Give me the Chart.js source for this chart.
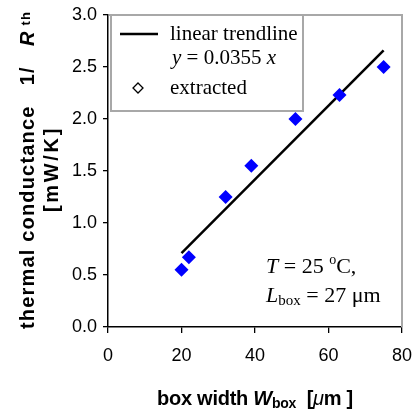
<!DOCTYPE html>
<html>
<head>
<meta charset="utf-8">
<script src="https://cdn.jsdelivr.net/npm/chart.js@4"></script>
<style>
  html, body { margin: 0; padding: 0; background: #fff; }
</style>
</head>
<body>
<canvas id="chart" width="412" height="416"></canvas>
<script>
// data
const boxWidth = [20, 22, 32, 39, 51, 63, 75];
const conductance = [0.55, 0.67, 1.25, 1.55, 2.0, 2.23, 2.5];
const trendX = [20, 75];
const trendY = [0.71, 2.66];
const xTicks = [0, 20, 40, 60, 80];
const yTicks = [0, 0.5, 1.0, 1.5, 2.0, 2.5, 3.0];

const SANS = '"Liberation Sans", Arial, sans-serif';
const SERIF = '"Liberation Serif", "Times New Roman", serif';

// draw text pieces with different fonts, centred on x (or left-aligned)
function drawRuns(ctx, runs, x, y, target, align) {
  let total = 0, chars = 0;
  ctx.letterSpacing = '0px';
  runs.forEach(r => {
    ctx.font = r.font;
    total += ctx.measureText(r.t).width;
    chars += r.t.length;
  });
  let sp = 0;
  if (target) sp = (target - total) / chars;
  let w = 0;
  runs.forEach(r => {
    ctx.font = r.font;
    ctx.letterSpacing = sp + 'px';
    r.w = ctx.measureText(r.t).width;
    w += r.w;
  });
  let cx = align === 'left' ? x : x - w / 2;
  ctx.textAlign = 'left';
  ctx.textBaseline = 'alphabetic';
  runs.forEach(r => {
    ctx.font = r.font;
    ctx.letterSpacing = sp + 'px';
    ctx.fillText(r.t, cx, y + (r.dy || 0));
    cx += r.w;
  });
  ctx.letterSpacing = '0px';
}

const decor = {
  id: 'decor',
  beforeDatasetsDraw(chart) {
    const { ctx, chartArea: a } = chart;
    ctx.save();
    ctx.strokeStyle = '#a8a8a8';
    ctx.lineWidth = 2;
    ctx.beginPath();
    ctx.moveTo(a.left + 1, a.top);
    ctx.lineTo(a.right, a.top);
    ctx.lineTo(a.right, a.bottom);
    ctx.stroke();
    ctx.restore();
  },
  afterDraw(chart) {
    const { ctx } = chart;
    ctx.save();

    // legend box
    ctx.fillStyle = '#fff';
    ctx.fillRect(111, 15, 192, 96);
    ctx.strokeStyle = '#a8a8a8';
    ctx.lineWidth = 2;
    ctx.strokeRect(111, 15, 192, 96);
    ctx.strokeStyle = '#000';
    ctx.lineWidth = 2.5;
    ctx.beginPath();
    ctx.moveTo(120, 34);
    ctx.lineTo(158, 34);
    ctx.stroke();
    ctx.lineWidth = 1.3;
    ctx.beginPath();
    ctx.moveTo(138, 83); ctx.lineTo(143, 88); ctx.lineTo(138, 93); ctx.lineTo(133, 88);
    ctx.closePath();
    ctx.stroke();
    ctx.fillStyle = '#000';
    drawRuns(ctx, [{ t: 'linear trendline', font: '21px ' + SERIF }], 170, 40, 0, 'left');
    drawRuns(ctx, [
      { t: 'y', font: 'italic 21px ' + SERIF },
      { t: ' = 0.0355 ', font: '21px ' + SERIF },
      { t: 'x', font: 'italic 21px ' + SERIF }
    ], 172, 64, 0, 'left');
    drawRuns(ctx, [{ t: 'extracted', font: '21px ' + SERIF }], 170, 94, 0, 'left');

    // conditions
    drawRuns(ctx, [
      { t: 'T', font: 'italic 22px ' + SERIF },
      { t: ' = 25 ', font: '22px ' + SERIF },
      { t: 'o', font: '14px ' + SERIF, dy: -9 },
      { t: 'C,', font: '22px ' + SERIF }
    ], 266, 273, 0, 'left');
    drawRuns(ctx, [
      { t: 'L', font: 'italic 22px ' + SERIF },
      { t: 'box', font: '15px ' + SERIF, dy: 3 },
      { t: ' = 27 \u03bcm', font: '22px ' + SERIF }
    ], 266, 302, 0, 'left');

    // x axis title
    drawRuns(ctx, [
      { t: 'box width ', font: 'bold 20px ' + SANS },
      { t: 'W', font: 'italic bold 20px ' + SANS },
      { t: 'box', font: 'bold 14px ' + SANS, dy: 3 },
      { t: '  [', font: 'bold 20px ' + SANS },
      { t: '\u03bc', font: 'italic 20px ' + SANS },
      { t: 'm ]', font: 'bold 20px ' + SANS }
    ], 255, 405, 196);

    // y axis title, two lines
    ctx.save();
    ctx.translate(34, 170);
    ctx.rotate(-Math.PI / 2);
    drawRuns(ctx, [
      { t: 'thermal conductance   1/   ', font: 'bold 20px ' + SANS },
      { t: 'R', font: 'italic bold 20px ' + SANS },
      { t: ' th', font: 'bold 13px ' + SANS, dy: -4 }
    ], 0, 0, 318);
    ctx.restore();
    ctx.save();
    ctx.translate(58, 169);
    ctx.rotate(-Math.PI / 2);
    drawRuns(ctx, [{ t: '[mW/K]', font: 'bold 20px ' + SANS }], 0, 0, 86);
    ctx.restore();

    ctx.restore();
  }
};

new Chart(document.getElementById('chart'), {
  type: 'scatter',
  data: {
    datasets: [
      {
        label: 'extracted',
        data: boxWidth.map((x, i) => ({ x: x, y: conductance[i] })),
        pointStyle: 'rectRot',
        pointRadius: 7,
        pointBackgroundColor: '#0000ff',
        pointBorderColor: '#0000ff',
        pointBorderWidth: 0
      },
      {
        label: 'linear trendline',
        data: trendX.map((x, i) => ({ x: x, y: trendY[i] })),
        showLine: true,
        borderColor: '#000',
        borderWidth: 2.5,
        pointRadius: 0
      }
    ]
  },
  options: {
    responsive: false,
    animation: false,
    layout: { padding: { top: 15, right: 10, left: 0, bottom: 0 } },
    plugins: { legend: { display: false }, tooltip: { enabled: false } },
    scales: {
      x: {
        min: 0, max: 80,
        afterFit: s => { s.height = 89; s.paddingLeft = 0; s.paddingRight = 0; },
        afterBuildTicks: s => { s.ticks = xTicks.map(v => ({ value: v })); },
        ticks: { color: '#000', font: { family: SANS, size: 18 }, padding: 12, maxRotation: 0 },
        grid: { drawOnChartArea: false, tickLength: 6, color: '#000', lineWidth: 1.3 },
        border: { color: '#000', width: 1.5 }
      },
      y: {
        min: 0, max: 3,
        afterFit: s => { s.width = 108; s.paddingTop = 0; s.paddingBottom = 0; },
        afterBuildTicks: s => { s.ticks = yTicks.map(v => ({ value: v })); },
        ticks: { color: '#000', font: { family: SANS, size: 18 }, padding: 6, callback: v => v.toFixed(1) },
        grid: { drawOnChartArea: false, tickLength: 5, color: '#000', lineWidth: 1.3 },
        border: { color: '#000', width: 1.5 }
      }
    }
  },
  plugins: [decor]
});
</script>
</body>
</html>
